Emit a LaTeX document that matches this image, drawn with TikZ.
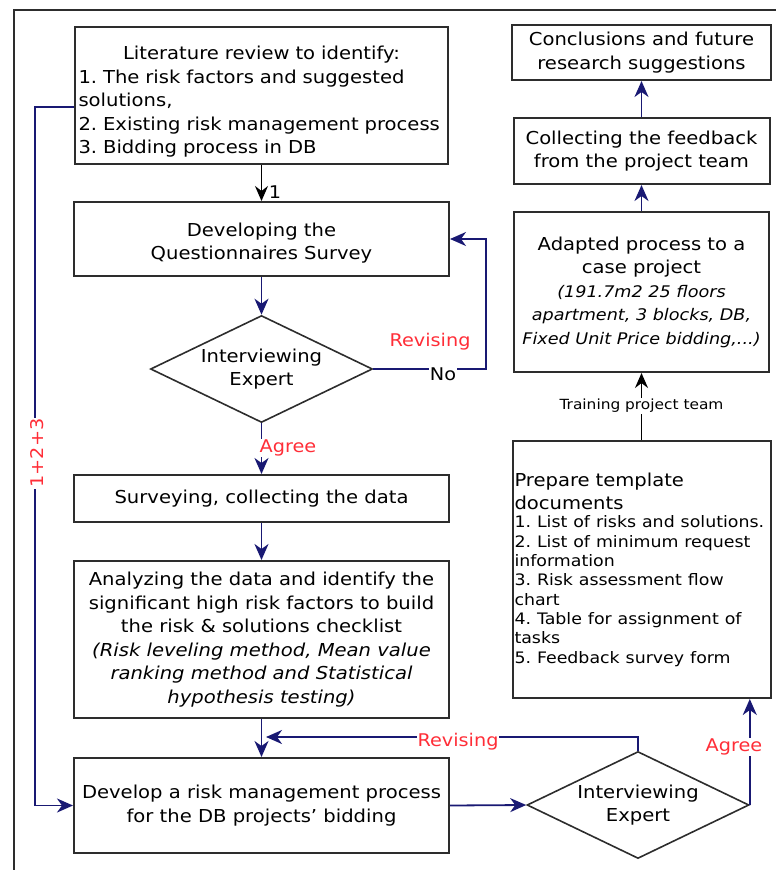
\documentclass[tikz,border=0pt]{standalone}
\usepackage{fontspec}
\setmainfont{DejaVu Sans}[FakeStretch=1.1]
\usepackage{tikz}
\usetikzlibrary{shapes.geometric,arrows.meta}

\definecolor{navyline}{RGB}{25,25,115}
\definecolor{redlabel}{RGB}{255,45,55}
\definecolor{boxline}{RGB}{45,45,45}

\newcommand{\casefont}{\fontsize{16}{23}\selectfont\itshape}
\frenchspacing
\hyphenpenalty=10000

\begin{document}
\begin{tikzpicture}[x=1pt,y=-1pt,
    box/.style={draw=boxline,line width=2pt,rectangle,inner sep=4pt,align=center,
      font=\fontsize{17.8}{23.5}\selectfont},
    decide/.style={draw=boxline,line width=1.6pt,diamond,aspect=2.07,inner sep=0pt,align=center,
      minimum width=222pt,minimum height=107pt,font=\fontsize{17.8}{23}\selectfont},
    flow/.style={draw=navyline,line width=1.8pt,-{Stealth[length=16pt,width=14pt,inset=5pt]}},
    plainflow/.style={draw=black,line width=1.8pt,-{Stealth[length=15pt,width=13pt,inset=5pt]}},
    note/.style={text=redlabel,fill=white,inner sep=1pt,font=\fontsize{17.5}{20}\selectfont},
    blacknote/.style={fill=white,inner sep=1pt,font=\fontsize{17.5}{20}\selectfont}]
            \useasboundingbox (0,0) rectangle (776,870);
            \draw[boxline,line width=2pt] (14,870) -- (14,10) -- (776,10);

            % left column
            \node[box,align=left,text width=366pt,inner sep=3.5pt,minimum height=137pt] at (261.5,95.5) (lit)
                {\makebox[\hsize]{\rule{0pt}{26pt}Literature review to identify:}\\
                 1. The risk factors and suggested\\
                 solutions,\\
                 2. Existing risk management process\\
                 3. Bidding process in DB};
            \node[box,minimum width=375pt,minimum height=74pt] at (261.5,239) (quest)
                {\rule{0pt}{22pt}Developing the\\Questionnaires Survey};
            \node[decide] at (261.5,369) (intv1) {Interviewing\\Expert};
            \node[box,minimum width=375pt,minimum height=47pt] at (261.5,498.5) (survey)
                {Surveying, collecting the data};
            \node[box,minimum width=375pt,minimum height=157pt] at (261.5,639.5) (analyze)
                {Analyzing the data and identify the\\
                 significant high risk factors to build\\
                 the risk \& solutions checklist\\
                 \itshape (Risk leveling method, Mean value\\
                 \itshape ranking method and Statistical\\
                 \itshape hypothesis testing)};
            \node[box,minimum width=375pt,minimum height=95pt] at (261.5,805.5) (develop)
                {Develop a risk management process\\for the DB projects' bidding};

            % right column
            \node[decide] at (638,805) (intv2) {Interviewing\\Expert};
            \node[box,align=left,text width=254pt,inner sep=2pt,minimum height=257pt] at (641.5,569.5) (prep)
                {Prepare template\\documents\\[-1pt]
                 {\fontsize{15.8}{19.3}\selectfont
                 1. List of risks and solutions.\\
                 2. List of minimum request\\
                 information\\
                 3. Risk assessment flow\\
                 chart\\
                 4. Table for assignment of\\
                 tasks\\
                 5. Feedback survey form\par}};
            \node[box,minimum width=255pt,minimum height=160pt] at (641.5,292) (adapt)
                {Adapted process to a\\case project\\
                 \casefont (191.7m2 25 floors\\
                 \casefont apartment, 3 blocks, DB,\\
                 \casefont Fixed Unit Price bidding,...)};
            \node[box,minimum width=256pt,minimum height=66pt] at (641.5,151) (collect)
                {Collecting the feedback\\from the project team};
            \node[box,minimum width=259pt,minimum height=55pt] at (641.5,52.5) (concl)
                {Conclusions and future\\research suggestions};

            % connectors
            \coordinate (loopR) at (486,369);
            \coordinate (sumL) at (35,107);
            \coordinate (revL) at (266,737);

            \draw[plainflow] (lit.south) -- (quest.north);
            \draw[flow] (quest.south) -- (intv1.north);
            \draw[flow] (intv1.east) -- (loopR) |- (quest.east);
            \draw[flow] (intv1.south) -- (survey.north);
            \draw[flow] (survey.south) -- (analyze.north);
            \draw[flow] (analyze.south) -- (develop.north);
            \draw[flow] (sumL -| lit.west) -- (sumL) -- (sumL |- develop.west) -- (develop.west);
            \draw[flow] (develop.east) -- (intv2.west);
            \draw[flow] (intv2.north) |- (revL);
            \draw[flow] (intv2.east) -- (intv2.east |- prep.south);
            \draw[plainflow] (prep.north) -- (adapt.south);
            \draw[flow] (adapt.north) -- (collect.south);
            \draw[flow] (collect.north) -- (concl.south);

            % labels
            \node[blacknote,fill=none] at (275,192) (one) {1};
            \node[note] at (430,342) (rev1) {Revising};
            \node[blacknote] at (443,374) (no) {No};
            \node[note] at (288,448) (agree1) {Agree};
            \node[note,rotate=90] at (37,453) (sum) {1+2+3};
            \node[note] at (458,742) (rev2) {Revising};
            \node[note] at (734,747) (agree2) {Agree};
            \node[blacknote,font=\fontsize{14}{16}\selectfont] at (641.5,406) (train) {Training project team};
        \end{tikzpicture}
\end{document}
